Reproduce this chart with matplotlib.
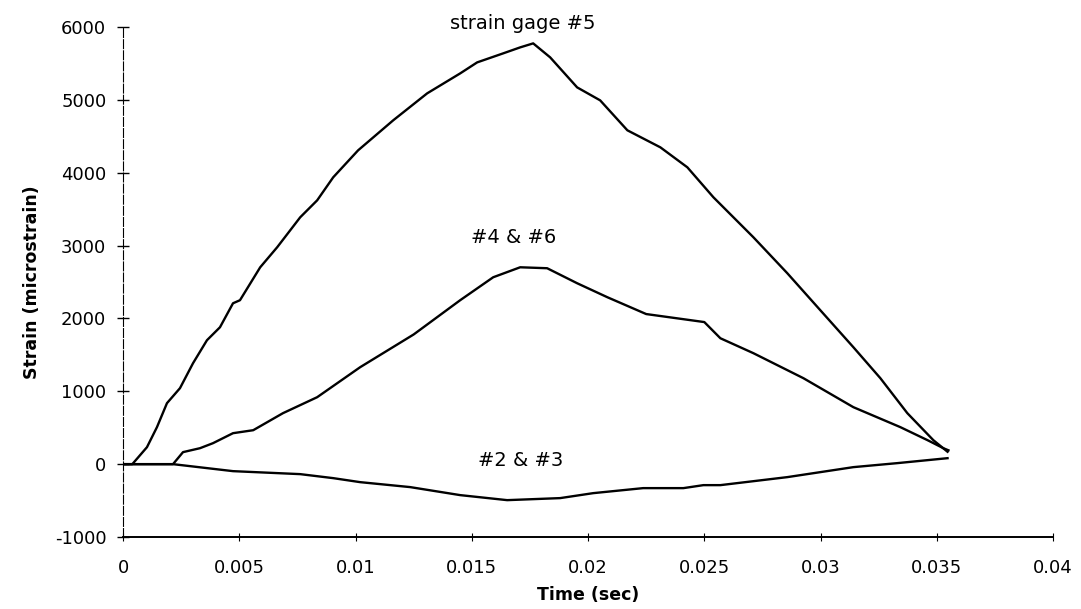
import numpy as np
import matplotlib
matplotlib.use("Agg")
import matplotlib.pyplot as plt

matplotlib.rcParams['font.family'] = 'sans-serif'
matplotlib.rcParams['font.sans-serif'] = ['DejaVu Sans']
matplotlib.rcParams['axes.unicode_minus'] = False

# strain gage #5
t5 = [0.0, 0.0004, 0.00103, 0.00146, 0.00189, 0.00245, 0.00301, 0.00361, 0.00417,
      0.00473, 0.00503, 0.0059, 0.00663, 0.00762, 0.00835, 0.00904, 0.01011,
      0.01162, 0.01308, 0.0145, 0.01523, 0.01635, 0.01708, 0.01764, 0.01837,
      0.01953, 0.02052, 0.02169, 0.02311, 0.02427, 0.02539, 0.02711, 0.02857,
      0.02999, 0.03141, 0.03257, 0.03373, 0.03485, 0.03546]
s5 = [0, 0, 233, 508, 837, 1043, 1385, 1701, 1879,
      2208, 2250, 2702, 2977, 3388, 3621, 3937, 4307,
      4719, 5089, 5363, 5514, 5638, 5720, 5775, 5583,
      5171, 4993, 4582, 4348, 4074, 3663, 3114, 2620,
      2112, 1605, 1180, 700, 329, 170]

# gages #4 & #6
t46 = [0.0, 0.00215, 0.00258, 0.00331, 0.00387, 0.00473, 0.0056, 0.00688, 0.00835,
       0.0102, 0.0125, 0.0145, 0.01592, 0.01708, 0.01824, 0.01953, 0.02083,
       0.0225, 0.025, 0.02569, 0.02711, 0.02926, 0.03141, 0.03343, 0.0346,
       0.03528, 0.0355]
s46 = [0, 0, 165, 219, 288, 425, 466, 700, 919,
       1331, 1780, 2250, 2565, 2702, 2689, 2483, 2291,
       2060, 1950, 1728, 1523, 1180, 782, 508, 329,
       219, 190]

# gages #2 & #3
t23 = [0.0, 0.00215, 0.00473, 0.00762, 0.00904, 0.0102, 0.01235, 0.0145, 0.01652,
       0.0188, 0.02022, 0.02237, 0.0241, 0.02496, 0.02569, 0.02857, 0.03141,
       0.0333, 0.03546]
s23 = [0, 0, -96, -137, -192, -247, -315, -425, -494,
       -466, -398, -329, -329, -288, -288, -178, -41,
       14, 82]

xticks = [0, 0.005, 0.01, 0.015, 0.02, 0.025, 0.03, 0.035, 0.04]
xticklabels = ['0', '0.005', '0.01', '0.015', '0.02', '0.025', '0.03', '0.035', '0.04']
yticks = [-1000, 0, 1000, 2000, 3000, 4000, 5000, 6000]

fig = plt.figure(figsize=(10.81, 6.09), dpi=100)
ax = fig.add_axes([0.1138, 0.1182, 0.9742 - 0.1138, 0.9557 - 0.1182])

for t, s in [(t5, s5), (t46, s46), (t23, s23)]:
    ax.plot(t, s, color='black', linewidth=1.7)

ax.set_xlim(0, 0.04)
ax.set_ylim(-1000, 6000)
ax.set_xticks(xticks)
ax.set_xticklabels(xticklabels)
ax.set_yticks(yticks)

ax.spines['top'].set_visible(False)
ax.spines['right'].set_visible(False)
ax.spines['left'].set_linewidth(0.8)
ax.spines['left'].set_linestyle((0, (8, 2)))
ax.spines['bottom'].set_linewidth(1.4)

ax.tick_params(axis='y', direction='inout', length=8, width=1, labelsize=13, pad=8)
ax.tick_params(axis='x', direction='inout', length=6, width=0.8, labelsize=13, pad=13)

ax.set_xlabel('Time (sec)', fontsize=12.5, fontweight='bold', labelpad=6)
ax.set_ylabel('Strain (microstrain)', fontsize=12.5, fontweight='bold', labelpad=10)

ax.text(0.01717, 6049, 'strain gage #5', ha='center', va='center', fontsize=14, clip_on=False)
ax.text(0.01682, 3114, '#4 & #6', ha='center', va='center', fontsize=14)
ax.text(0.01708, 55, '#2 & #3', ha='center', va='center', fontsize=14)

fig.savefig('out.png', dpi=100)
plt.close()
